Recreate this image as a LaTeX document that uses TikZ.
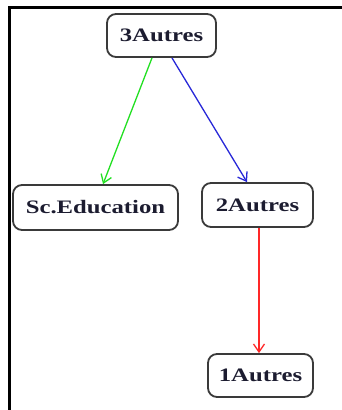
\documentclass[tikz,border=0pt]{standalone}
\usepackage{fontspec}
\setmainfont{Liberation Serif}
\usetikzlibrary{arrows.meta}
\definecolor{boxline}{HTML}{3A3A3A}
\definecolor{boxtext}{HTML}{1C1C30}
\definecolor{edgegreen}{HTML}{22E022}
\definecolor{edgeblue}{HTML}{2828D8}
\definecolor{edgered}{HTML}{FF2828}
\tikzset{
  box/.style={draw=boxline, line width=1.8pt, rounded corners=9pt,
    fill=white, inner sep=0pt, text=boxtext,
    font=\fontsize{19}{22}\selectfont\bfseries},
  link/.style={line width=1.3pt, -{Straight Barb[length=8pt,width=11pt,line width=1.3pt]}},
}
\newcommand{\wide}[1]{\scalebox{1.3}[1]{#1}}
\begin{document}
\begin{tikzpicture}[x=1pt, y=-1pt]
  \useasboundingbox (0,0) rectangle (342,410);
  \fill[white] (0,0) rectangle (342,410);
  % frame
  \draw[line width=3pt] (9.5,410) -- (9.5,7) -- (342,7);
  % nodes
  \node[box, minimum width=109pt, minimum height=43pt] (t3) at (161.5,35.5) {\wide{3Autres}};
  \node[box, minimum width=165pt, minimum height=45pt] (sc) at (95.5,207.5) {\wide{Sc.Education}};
  \node[box, minimum width=111pt, minimum height=44pt] (t2) at (257.5,205) {\wide{2Autres}};
  \node[box, minimum width=105pt, minimum height=43pt] (t1) at (260.5,375.5) {\wide{1Autres}};
  % edges
  \draw[link, edgegreen] ([xshift=-9.5pt]t3.south) -- ([xshift=7.5pt]sc.north);
  \draw[link, edgeblue] ([xshift=10.5pt]t3.south) -- ([xshift=-10.5pt]t2.north);
  \draw[link, edgered] ([xshift=1.5pt]t2.south) -- ([xshift=-1.5pt]t1.north);
\end{tikzpicture}
\end{document}
